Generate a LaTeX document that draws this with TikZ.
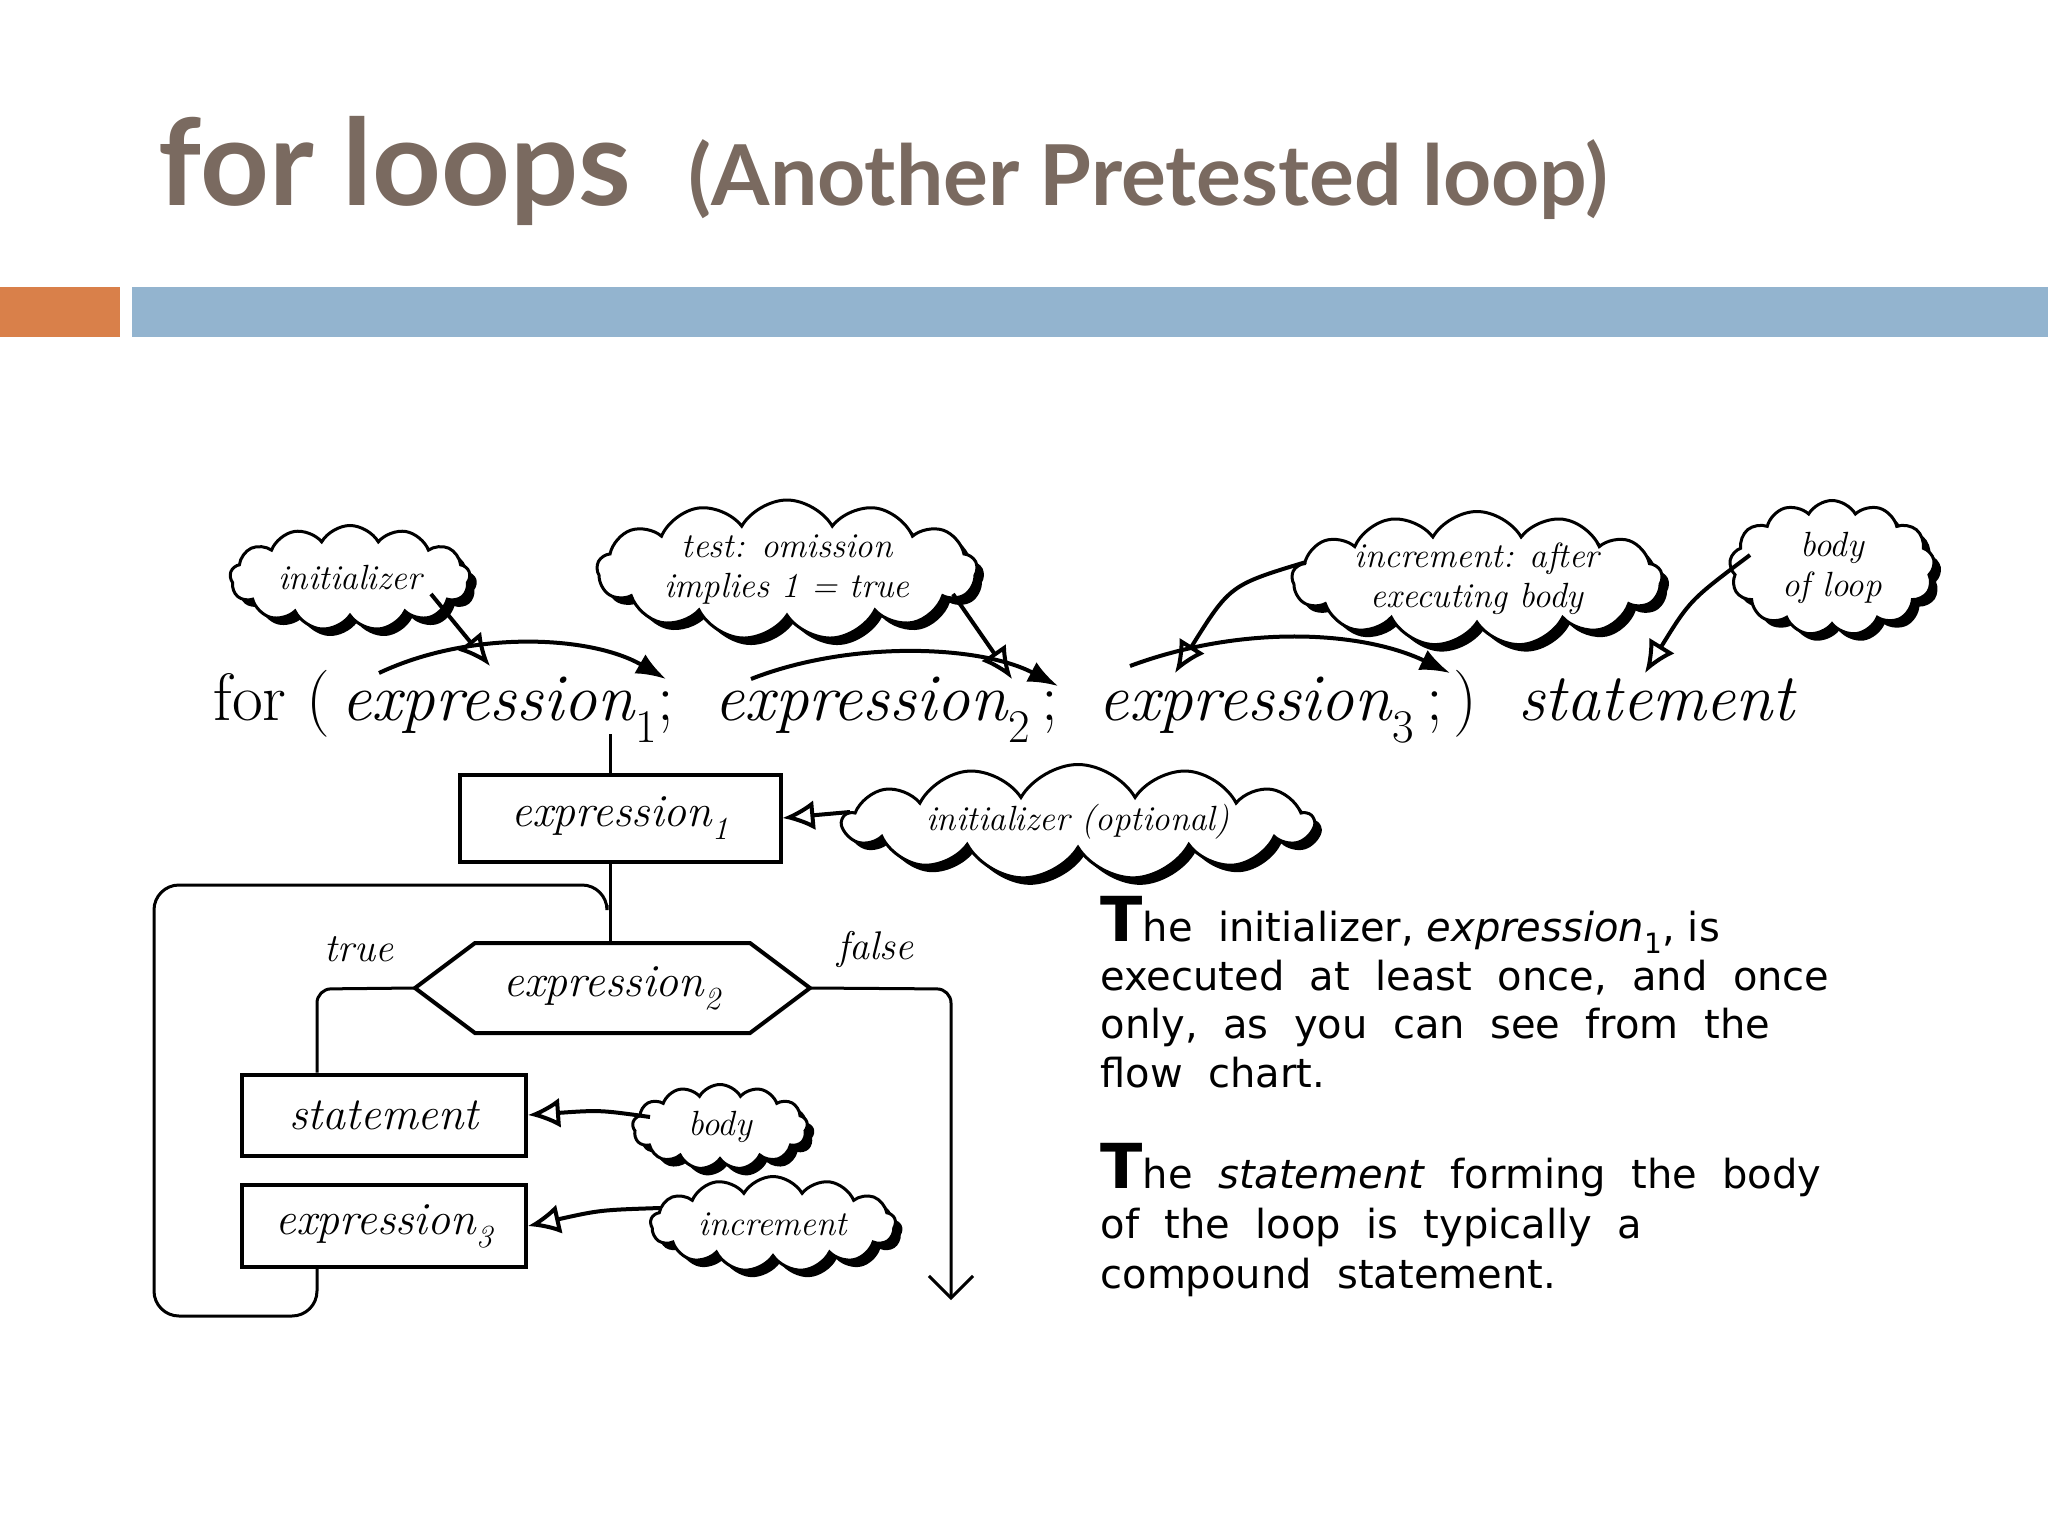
\documentclass[tikz,border=0pt]{standalone}
\usepackage{fontspec}
\setmainfont{Latin Modern Roman}
\newfontfamily\titlefont{Lato}
\newfontfamily\parafont{DejaVu Sans}
\usetikzlibrary{shapes.symbols,arrows.meta,calc}
\definecolor{titlec}{HTML}{7A6A60}
\definecolor{orangec}{HTML}{D9804A}
\definecolor{bluec}{HTML}{93B4CF}
\tikzset{
  clbase/.style={cloud, cloud puffs=13, cloud puff arc=120, cloud ignores aspect, inner sep=0pt},
  cl/.style={clbase, draw=black, line width=3pt, fill=white},
  clsh/.style={clbase, fill=black},
  cltext/.style={font=\fontsize{35}{40}\selectfont\itshape, align=center},
  bx/.style={draw, line width=4pt, inner sep=0pt, font=\fontsize{46}{50}\selectfont\itshape},
  ln/.style={line width=3pt},
  hol/.style={line width=4pt, -{Latex[open,length=32pt,width=30pt]}},
  cur/.style={line width=4pt, -{Latex[length=30pt,width=22pt]}},
  lab/.style={font=\fontsize{40}{44}\selectfont\itshape}
}
\newcommand{\cloudn}[5]{%
  \node[clsh, minimum width=#3, minimum height=#4] at ($(#2)+(7,7)$) {};
  \node[cl, minimum width=#3, minimum height=#4] (#1) at (#2) {};
  \node[cltext] (#1t) at (#2) {#5};}
\begin{document}
\begin{tikzpicture}[x=1pt,y=-1pt]
\useasboundingbox (0,0) rectangle (2048,1536);
% title
\node[anchor=base west, text=titlec, font=\titlefont\bfseries\fontsize{120}{130}\selectfont] (t1) at (155,205) {for loops};
\node[anchor=base west, text=titlec, font=\titlefont\bfseries\fontsize{84}{90}\selectfont] (t2) at (685,205) {(Another Pretested loop)};
\fill[orangec] (0,287) rectangle (120,337);
\fill[bluec] (132,287) rectangle (2048,337);
% for line
\node[anchor=base west, font=\fontsize{67}{72}\selectfont] (forl) at (210,720) {for (\,\textit{expression}\textsubscript{1}; \ \textit{expression}\textsubscript{2}\,; \ \textit{expression}\textsubscript{3}\,;\,) \ \textit{statement}};
% curved arrows
\coordinate (a1s) at (379,673); \coordinate (a1e) at (666,679);
\coordinate (a2s) at (751,679); \coordinate (a2e) at (1058,686);
\coordinate (a3s) at (1130,666); \coordinate (a3e) at (1450,673);
\draw[cur] (a1s) .. controls (470,630) and (590,635) .. (a1e);
\draw[cur] (a2s) .. controls (850,640) and (980,645) .. (a2e);
\draw[cur] (a3s) .. controls (1240,625) and (1360,630) .. (a3e);
% clouds top
\cloudn{ci}{350,578}{240}{105}{initializer}
\cloudn{ct}{787,570}{380}{140}{test: omission\\implies 1 = true}
\cloudn{cinc}{1477,579}{370}{135}{increment: after\\executing body}
\cloudn{cb}{1832,568}{205}{135}{body\\of loop}
\coordinate (p1) at (490,666); \coordinate (p2) at (1012,679);
\coordinate (p3) at (1175,673); \coordinate (p4) at (1645,673);
\draw[hol] (431,594) -- (p1);
\draw[hol] (953,594) -- (p2);
\draw[hol] (1306,562) .. controls (1230,585) .. (p3);
\draw[hol] (1750,555) .. controls (1690,600) .. (p4);
% flowchart
\node[bx, minimum width=321, minimum height=87] (e1) at (620,818) {expression\textsubscript{1}};
\coordinate (hx) at (612,988);
\coordinate (hxw) at (415,988);
\coordinate (hxe) at (810,988);
\coordinate (hxn) at (610,943);
\draw[line width=4pt, fill=white] (hxw) -- ++(60,-45) -- ++(275,0) -- ++(60,45) -- ++(-60,45) -- ++(-275,0) -- cycle;
\node[font=\fontsize{46}{50}\selectfont\itshape] (hxt) at (hx) {expression\textsubscript{2}};
\node[bx, minimum width=284, minimum height=81] (st) at (384,1115) {statement};
\node[bx, minimum width=284, minimum height=82] (e3) at (384,1226) {expression\textsubscript{3}};
\node[lab] (tr) at (359,949) {true};
\node[lab] (fa) at (875,949) {false};
\coordinate (v0) at (610,734);
\draw[ln] (v0) -- (v0 |- e1.north);
\draw[ln] (e1.south -| v0) -- (hxn);
\draw[ln, rounded corners=14pt] (hxw) -- (317,989) -- (st.north -| 317,0);
\draw[ln, rounded corners=25pt] (e3.south -| 317,0) -- (317,1316) -- (154,1316) -- (154,885) -- (607,885) -- (607,905);
\draw[ln, rounded corners=14pt, -{Straight Barb[length=22pt,width=44pt]}] (hxe) -- (951,989) -- (951,1300);
% lower clouds
\cloudn{cio}{1078,822}{470}{115}{initializer (optional)}
\cloudn{cbd}{720,1127}{175}{85}{body}
\cloudn{cin}{773,1224}{245}{95}{increment}
\draw[hol] (850,812) -- (e1.east);
\draw[hol] (650,1117) .. controls (600,1110) .. (st.east);
\draw[hol] (660,1208) .. controls (600,1210) .. (e3.east);
% paragraphs
\node[anchor=north west, align=left, font=\parafont\fontsize{40}{48.5}\selectfont] (para1) at (1097,893)
{{\fontsize{62}{48}\selectfont\bfseries T}he \ initializer, \textit{expression}\textsubscript{1}, is\\
executed \ at \ least \ once, \ and \ once\\
only, \ as \ you \ can \ see \ from \ the\\
flow \ chart.};
\node[anchor=north west, align=left, font=\parafont\fontsize{40}{50}\selectfont] (para2) at (1097,1140)
{{\fontsize{62}{48}\selectfont\bfseries T}he \ \textit{statement} \ forming \ the \ body\\
of \ the \ loop \ is \ typically \ a\\
compound \ statement.};
\end{tikzpicture}
\end{document}
